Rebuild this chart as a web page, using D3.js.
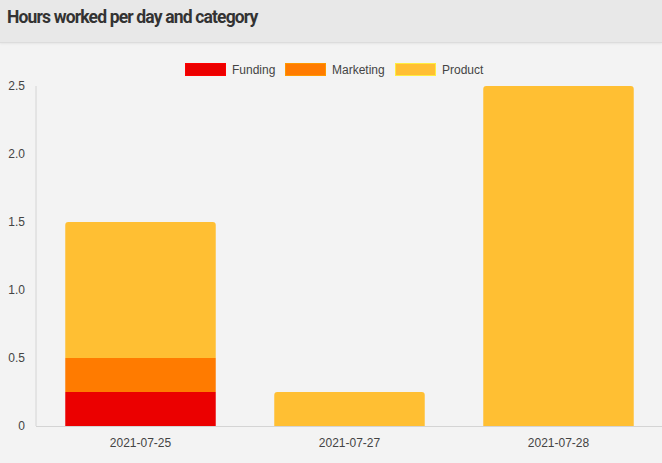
<!DOCTYPE html>
<html>
<head>
<meta charset="utf-8">
<script src="https://cdn.jsdelivr.net/npm/d3@7"></script>
<style>
  body { margin: 0; background: #f3f3f3; font-family: "Liberation Sans", Arial, sans-serif; }
  .header { height: 42px; background: #e8e8e8; border-bottom: 1px solid #dcdcdc; box-shadow: 0 1px 2px rgba(0,0,0,0.06); }
  .header h1 { margin: 0; padding: 7px 0 0 7px; font: bold 17.5px Roboto, sans-serif; letter-spacing: -0.85px; color: #333; }
</style>
</head>
<body>
<div class="header"><h1>Hours worked per day and category</h1></div>
<div id="chart"></div>
<script>
var days = ["2021-07-25", "2021-07-27", "2021-07-28"];
var categories = ["Funding", "Marketing", "Product"];
var funding = [0.25, 0, 0];
var marketing = [0.25, 0, 0];
var product = [1, 0.25, 2.5];
var yTicks = [0, 0.5, 1.0, 1.5, 2.0, 2.5];
var colors = ["#eb0000", "#ff7b00", "#ffbf33"];

var svgWidth = 662;
var svgHeight = 420;
var margin = { top: 43, right: -1, bottom: 37, left: 36 };
var width = svgWidth - margin.left - margin.right;
var height = svgHeight - margin.top - margin.bottom;

var svg = d3.select("#chart")
  .append("svg")
  .attr("width", svgWidth)
  .attr("height", svgHeight)
  .style("display", "block");

var chartGroup = svg.append("g")
  .attr("transform", `translate(${margin.left}, ${margin.top})`);

var table = days.map(function(d, i) {
  return { day: d, Funding: funding[i], Marketing: marketing[i], Product: product[i] };
});
var series = d3.stack().keys(categories)(table);

var x = d3.scaleBand().domain(days).range([0, width]).paddingInner(0.28).paddingOuter(0.14);
var y = d3.scaleLinear().domain([0, 2.5]).range([height, 0]);

// axes
chartGroup.append("line")
  .attr("x1", 0).attr("x2", 0).attr("y1", 0).attr("y2", height)
  .attr("stroke", "#d4d4d4");
chartGroup.append("line")
  .attr("x1", 0).attr("x2", width).attr("y1", height + 0.5).attr("y2", height + 0.5)
  .attr("stroke", "#d4d4d4");

chartGroup.selectAll(".ytick")
  .data(yTicks)
  .enter()
  .append("text")
  .attr("x", -11)
  .attr("y", d => y(d))
  .attr("dy", "0.35em")
  .attr("text-anchor", "end")
  .attr("font-size", "12px")
  .attr("fill", "#444")
  .text(d => d === 0 ? "0" : d.toFixed(1));

chartGroup.selectAll(".xtick")
  .data(days)
  .enter()
  .append("text")
  .attr("x", d => x(d) + x.bandwidth() / 2)
  .attr("y", height + 21)
  .attr("text-anchor", "middle")
  .attr("font-size", "12px")
  .attr("fill", "#444")
  .text(d => d);

// bars, top segment gets small rounded corners
function topRounded(x0, y0, w, h, r) {
  r = Math.min(r, h);
  return `M${x0},${y0 + h}V${y0 + r}Q${x0},${y0} ${x0 + r},${y0}H${x0 + w - r}Q${x0 + w},${y0} ${x0 + w},${y0 + r}V${y0 + h}Z`;
}

series.forEach(function(s, si) {
  chartGroup.append("g")
    .selectAll("path")
    .data(s.filter(d => d[1] - d[0] > 0))
    .enter()
    .append("path")
    .attr("fill", colors[si])
    .attr("d", function(d) {
      var x0 = x(d.data.day), w = x.bandwidth();
      var y0 = y(d[1]), h = y(d[0]) - y(d[1]);
      var isTop = si === categories.length - 1;
      return isTop ? topRounded(x0, y0, w, h, 3) : `M${x0},${y0}h${w}v${h}h${-w}Z`;
    });
});

// legend
var legendX = [185, 285, 395];
var legend = svg.selectAll(".legend")
  .data(categories)
  .enter()
  .append("g")
  .attr("transform", (d, i) => `translate(${legendX[i]}, 20)`);
legend.append("rect")
  .attr("x", 0.5).attr("y", 0.5).attr("width", 40).attr("height", 12)
  .attr("fill", (d, i) => colors[i])
  .attr("stroke", (d, i) => d3.color(colors[i]).brighter(0.6))
  .attr("stroke-width", 1);
legend.append("text")
  .attr("x", 47)
  .attr("y", 6.5)
  .attr("dy", "0.35em")
  .attr("font-size", "12px")
  .attr("fill", "#444")
  .text(d => d);
</script>
</body>
</html>
